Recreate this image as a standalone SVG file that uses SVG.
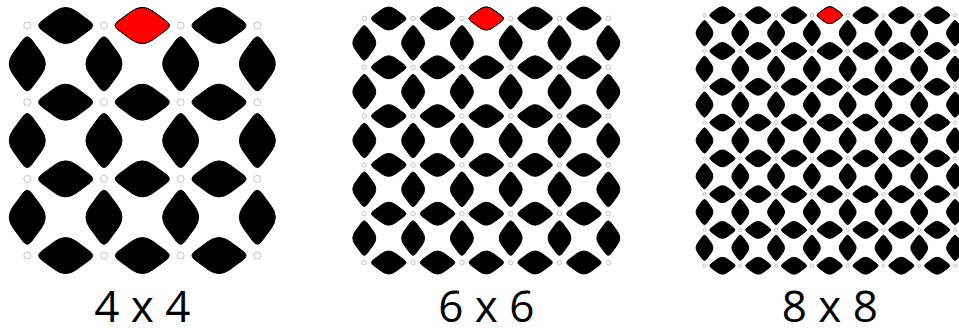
<svg xmlns="http://www.w3.org/2000/svg" xmlns:xlink="http://www.w3.org/1999/xlink" width="959" height="328" viewBox="0 0 959 328">
<style>
.panel{fill:#000;stroke:#000}
.lbl{font-family:"Open Sans","Noto Sans","DejaVu Sans",sans-serif;font-size:44px;fill:#000;stroke:none;text-anchor:middle}
</style>
<defs>
<path id="dh" stroke-width="1" vector-effect="non-scaling-stroke" d="M-0.1434,-0.1820 Q0,-0.2874 0.1434,-0.1820 L0.3129,-0.0575 Q0.3912,0 0.3129,0.0575 L0.1434,0.1820 Q0,0.2874 -0.1434,0.1820 L-0.3129,0.0575 Q-0.3912,0 -0.3129,-0.0575 Z"/>
<path id="dv" stroke-width="1" vector-effect="non-scaling-stroke" d="M-0.1820,-0.1434 Q-0.2874,0 -0.1820,0.1434 L-0.0575,0.3129 Q0,0.3912 0.0575,0.3129 L0.1820,0.1434 Q0.2874,0 0.1820,-0.1434 L0.0575,-0.3129 Q0,-0.3912 -0.0575,-0.3129 Z"/>
<circle id="c" r="0.0456" fill="#fff" stroke="#c4c4c4" stroke-width="1" vector-effect="non-scaling-stroke"/>
<g id="hrow4">
<use href="#c" x="0"/><use href="#c" x="1"/><use href="#c" x="2"/><use href="#c" x="3"/>
<use href="#dh" x="0.5"/><use href="#dh" x="1.5"/><use href="#dh" x="2.5"/>
</g>
<g id="vrow4">
<use href="#dv" x="0" y="0.5"/><use href="#dv" x="1" y="0.5"/><use href="#dv" x="2" y="0.5"/><use href="#dv" x="3" y="0.5"/>
</g>
<g id="hrow6">
<use href="#c" x="0"/><use href="#c" x="1"/><use href="#c" x="2"/><use href="#c" x="3"/><use href="#c" x="4"/><use href="#c" x="5"/>
<use href="#dh" x="0.5"/><use href="#dh" x="1.5"/><use href="#dh" x="2.5"/><use href="#dh" x="3.5"/><use href="#dh" x="4.5"/>
</g>
<g id="vrow6">
<use href="#dv" x="0" y="0.5"/><use href="#dv" x="1" y="0.5"/><use href="#dv" x="2" y="0.5"/><use href="#dv" x="3" y="0.5"/><use href="#dv" x="4" y="0.5"/><use href="#dv" x="5" y="0.5"/>
</g>
<g id="hrow8">
<use href="#c" x="0"/><use href="#c" x="1"/><use href="#c" x="2"/><use href="#c" x="3"/><use href="#c" x="4"/><use href="#c" x="5"/><use href="#c" x="6"/><use href="#c" x="7"/>
<use href="#dh" x="0.5"/><use href="#dh" x="1.5"/><use href="#dh" x="2.5"/><use href="#dh" x="3.5"/><use href="#dh" x="4.5"/><use href="#dh" x="5.5"/><use href="#dh" x="6.5"/>
</g>
<g id="vrow8">
<use href="#dv" x="0" y="0.5"/><use href="#dv" x="1" y="0.5"/><use href="#dv" x="2" y="0.5"/><use href="#dv" x="3" y="0.5"/><use href="#dv" x="4" y="0.5"/><use href="#dv" x="5" y="0.5"/><use href="#dv" x="6" y="0.5"/><use href="#dv" x="7" y="0.5"/>
</g>
</defs>
<rect width="959" height="328" fill="#fff"/>

<g id="panel-4x4" class="panel" transform="translate(27.27,25.5) scale(76.69)">
<use href="#vrow4" y="0"/><use href="#vrow4" y="1"/><use href="#vrow4" y="2"/>
<use href="#hrow4" y="0"/><use href="#hrow4" y="1"/><use href="#hrow4" y="2"/><use href="#hrow4" y="3"/>
<use href="#dh" x="1.5" y="0" fill="#ff0000"/>
</g>

<g id="panel-6x6" class="panel" transform="translate(364.3,18.5) scale(48.8)">
<use href="#vrow6" y="0"/><use href="#vrow6" y="1"/><use href="#vrow6" y="2"/><use href="#vrow6" y="3"/><use href="#vrow6" y="4"/>
<use href="#hrow6" y="0"/><use href="#hrow6" y="1"/><use href="#hrow6" y="2"/><use href="#hrow6" y="3"/><use href="#hrow6" y="4"/><use href="#hrow6" y="5"/>
<use href="#dh" x="2.5" y="0" fill="#ff0000"/>
</g>

<g id="panel-8x8" class="panel" transform="translate(704.5,15.2) scale(35.79)">
<use href="#vrow8" y="0"/><use href="#vrow8" y="1"/><use href="#vrow8" y="2"/><use href="#vrow8" y="3"/><use href="#vrow8" y="4"/><use href="#vrow8" y="5"/><use href="#vrow8" y="6"/>
<use href="#hrow8" y="0"/><use href="#hrow8" y="1"/><use href="#hrow8" y="2"/><use href="#hrow8" y="3"/><use href="#hrow8" y="4"/><use href="#hrow8" y="5"/><use href="#hrow8" y="6"/><use href="#hrow8" y="7"/>
<use href="#dh" x="3.5" y="0" fill="#ff0000"/>
</g>

<g id="labels">
<text class="lbl" x="142.3" y="322">4 x 4</text>
<text class="lbl" x="486.3" y="322">6 x 6</text>
<text class="lbl" x="829.8" y="322">8 x 8</text>
</g>
</svg>
